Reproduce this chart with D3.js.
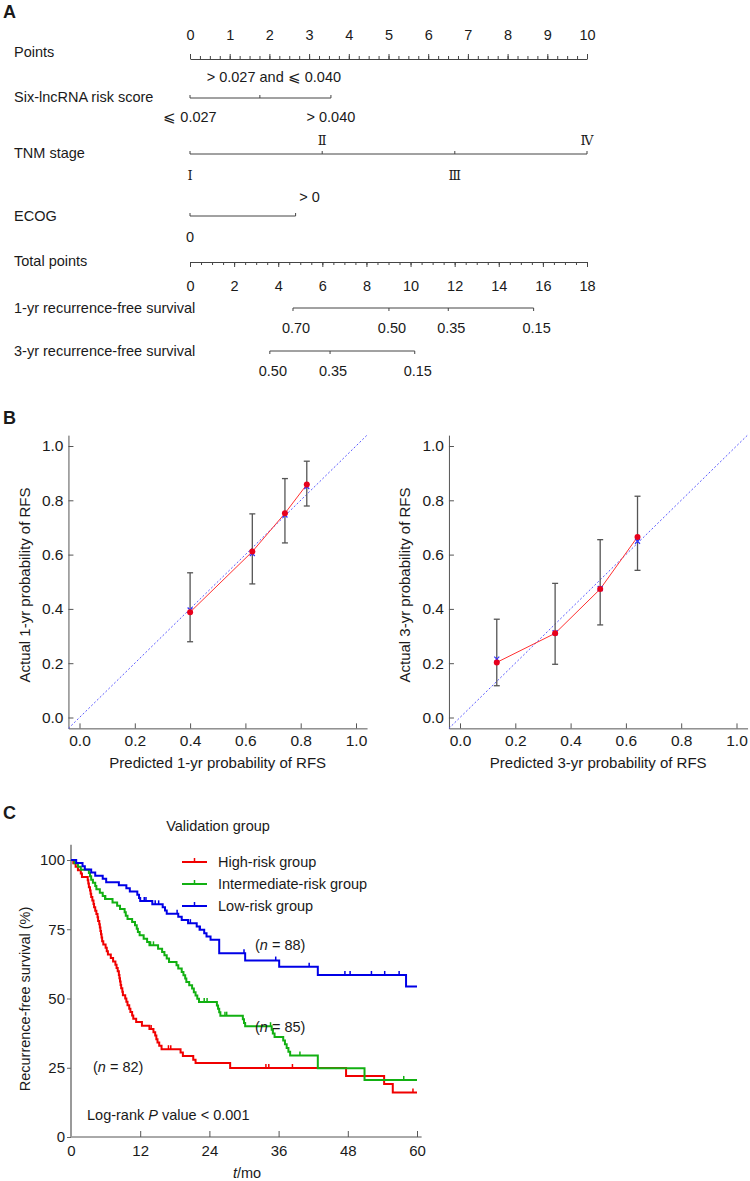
<!DOCTYPE html>
<html><head><meta charset="utf-8">
<script src="https://cdn.jsdelivr.net/npm/d3@7"></script>
<style>
body{margin:0;background:#fff;}
svg{display:block;}
text{fill:#1a1a1a;}
</style></head>
<body>
<script>
// ---------------- DATA ----------------
// Panel A: nomogram
const rowNames = ["Points","Six-lncRNA risk score","TNM stage","ECOG","Total points","1-yr recurrence-free survival","3-yr recurrence-free survival"];
const pointsTicks = [0,1,2,3,4,5,6,7,8,9,10];
const riskLevels = ["⩽ 0.027","> 0.027 and ⩽ 0.040","> 0.040"];
const riskPoints = [0, 1.76, 3.55];
const tnmLevels = ["Ⅰ","Ⅱ","Ⅲ","Ⅳ"];
const tnmPoints = [0, 3.33, 6.67, 10];
const ecogLevels = ["0","> 0"];
const ecogPoints = [0, 2.66];
const totalTicks = [0,2,4,6,8,10,12,14,16,18];
const rfs1Labels = ["0.70","0.50","0.35","0.15"];
const rfs1Total = [4.67, 9.02, 11.71, 15.58];
const rfs3Labels = ["0.50","0.35","0.15"];
const rfs3Total = [3.62, 6.35, 10.19];

// Panel B: calibration
const calTicks = [0,0.2,0.4,0.6,0.8,1.0];
const cal1Pred = [0.400, 0.625, 0.743, 0.822];
const cal1Obs  = [0.388, 0.611, 0.752, 0.858];
const cal1Lo   = [0.279, 0.492, 0.643, 0.779];
const cal1Hi   = [0.533, 0.750, 0.880, 0.944];
const cal1Corr = [0.396, 0.604, 0.746, 0.851];
const cal3Pred = [0.133, 0.344, 0.507, 0.642];
const cal3Obs  = [0.203, 0.310, 0.473, 0.665];
const cal3Lo   = [0.117, 0.196, 0.341, 0.542];
const cal3Hi   = [0.362, 0.494, 0.655, 0.815];
const cal3Corr = [0.215, 0.312, 0.475, 0.649];

// Panel C: Kaplan-Meier (time in months, survival %)
const kmGroups = ["High-risk group","Intermediate-risk group","Low-risk group"];
const kmN = [82, 85, 88];
const kmXTicks = [0,12,24,36,48,60];
const kmYTicks = [0,25,50,75,100];
const redSteps = [[0,100],[0.4,98.8],[0.8,97.6],[1.2,96.3],[1.7,95.1],[1.9,93.9],[2.9,92.7],[3.0,91.5],[3.1,90.2],[3.3,89.0],[3.4,87.8],[3.5,86.6],[3.7,85.4],[3.9,84.1],[4.0,82.9],[4.2,81.7],[4.4,80.5],[4.6,79.3],[4.7,78.0],[4.9,76.8],[5.0,75.6],[5.1,74.4],[5.2,73.2],[5.3,72.0],[5.4,70.7],[5.6,69.5],[6.0,68.3],[6.2,67.1],[6.4,65.9],[6.9,64.6],[7.3,63.4],[7.7,62.2],[7.9,61.0],[8.1,59.8],[8.3,58.5],[8.4,57.3],[8.5,56.1],[8.6,54.9],[8.7,53.7],[8.9,52.4],[9.0,51.2],[9.4,50.0],[9.6,48.8],[9.8,47.6],[10.1,46.3],[10.3,45.1],[10.6,43.9],[10.8,42.7],[11.3,41.5],[12.3,40.2],[13.6,39.0],[14.3,37.8],[14.6,36.6],[14.8,35.3],[15.0,34.1],[15.3,32.9],[15.7,31.7],[19.0,30.5],[19.4,29.2],[21.2,27.9],[21.6,26.7],[27.6,24.9],[47.7,22.0],[54.3,19.1],[55.8,16.1],[60,16.1]];
const greenSteps = [[0,100],[0.6,98.8],[1.2,97.6],[1.7,96.5],[3.1,95.3],[3.3,94.1],[3.5,92.9],[3.8,91.8],[4.2,90.6],[4.4,89.4],[5.0,88.2],[5.5,87.0],[5.9,85.9],[7.2,84.7],[8.0,83.5],[8.5,82.3],[9.3,81.1],[9.5,79.9],[9.8,78.7],[10.6,77.6],[11.1,76.4],[11.4,75.2],[11.6,74.0],[11.9,72.8],[12.6,71.6],[13.2,70.4],[13.6,69.2],[15.1,68.0],[15.8,66.8],[16.2,65.6],[16.6,64.4],[17.0,63.2],[18.3,62.0],[18.6,60.8],[19.2,59.6],[19.5,58.4],[19.8,57.2],[20.0,56.0],[20.5,54.8],[21.0,53.6],[21.3,52.3],[21.6,51.1],[21.9,49.9],[22.2,48.7],[25.3,47.5],[25.5,46.3],[25.7,45.0],[25.9,43.8],[29.8,42.5],[30.0,41.2],[30.2,40.0],[34.8,38.7],[35.0,37.4],[35.3,36.1],[36.8,34.8],[37.1,33.5],[37.4,32.1],[37.7,30.8],[38.0,29.4],[42.8,24.8],[50.9,20.6],[60,20.6]];
const blueSteps = [[0,100],[0.9,98.9],[2.0,97.7],[2.4,96.6],[3.5,95.5],[4.2,94.3],[5.5,93.2],[6.1,92.0],[8.3,90.9],[9.6,89.8],[10.2,88.6],[11.5,87.5],[11.8,86.3],[12.0,85.2],[14.1,84.0],[15.9,82.9],[16.3,81.8],[16.6,80.6],[18.6,79.5],[19.2,78.3],[20.3,77.2],[21.8,76.0],[22.3,74.8],[23.1,73.6],[23.5,72.4],[24.2,71.2],[25.7,66.3],[30.2,63.7],[36.1,61.5],[42.8,58.5],[58.1,54.3],[60,54.3]];
const redCensor = [13.9, 16.9, 17.3, 33.8, 34.3, 38.4, 59.3];
const greenCensor = [6.0, 13.8, 14.3, 23.1, 23.6, 26.7, 27.0, 34.6, 35.0, 39.7, 57.7];
const blueCensor = [12.7, 13.0, 14.6, 15.2, 18.4, 20.7, 22.4, 30.0, 35.5, 41.3, 47.5, 48.4, 52.1, 54.4, 56.9];

// ---------------- DRAW ----------------
const W = 750, H = 1181;
const FONT = "'Liberation Sans', Arial, sans-serif";
const svg = d3.select("body").append("svg").attr("width", W).attr("height", H)
  .style("font-family", FONT).style("font-size", "14.5px");
svg.append("rect").attr("width", W).attr("height", H).attr("fill", "#fff");

function styleAxis(g, col, fs) {
  g.attr("font-family", null).attr("font-size", null);
  g.selectAll("text").attr("fill", "#1a1a1a").style("font-size", (fs || 14.5) + "px");
  g.selectAll("line").attr("stroke", col || "#444");
  g.select(".domain").attr("stroke", col || "#444");
}

// Panel letters
[["A",3,18],["B",3,424],["C",3,819]].forEach(([t,x,y]) =>
  svg.append("text").attr("x", x).attr("y", y).text(t)
    .style("font-weight", "bold").style("font-size", "18px"));

// ---- Panel A ----
const A = svg.append("g");
const xPts = d3.scaleLinear().domain([0, 10]).range([190, 587]);
const xTot = d3.scaleLinear().domain([0, 18]).range([190, 587]);
const rowLabelY = [52, 97, 153, 216, 261, 308, 351];
rowNames.forEach((n, i) => A.append("text").attr("x", 14).attr("y", rowLabelY[i] + 5).text(n));

// Points axis
const yPts = 59;
A.append("g").attr("transform", `translate(0,${yPts})`)
  .call(d3.axisTop(xPts).tickValues(d3.range(0, 10.001, 0.25)).tickSize(3).tickFormat(""))
  .call(g => { styleAxis(g); g.select(".domain").remove(); });
A.append("g").attr("transform", `translate(0,${yPts})`)
  .call(d3.axisTop(xPts).tickValues(pointsTicks).tickSize(5).tickSizeOuter(0).tickPadding(14))
  .call(g => styleAxis(g));

// Categorical rows
function catRow(y, levels, pts, pos, upOff, downOff, font) {
  const g = A.append("g");
  g.append("line").attr("x1", xPts(d3.min(pts))).attr("x2", xPts(d3.max(pts)))
    .attr("y1", y).attr("y2", y).attr("stroke", "#444");
  pts.forEach((p, i) => {
    g.append("line").attr("x1", xPts(p)).attr("x2", xPts(p)).attr("y1", y).attr("y2", y - 3).attr("stroke", "#444");
    const t = g.append("text").attr("x", xPts(p) + (pos[i] === "a2" ? 14 : 0))
      .attr("y", pos[i] === "b" ? y + downOff + 5 : y - upOff + 5)
      .attr("text-anchor", "middle").text(levels[i]);
    if (font) t.style("font-family", font).style("font-size", "13px");
  });
}
catRow(98, riskLevels, riskPoints, ["b","a2","b"], 21, 19);
catRow(154, tnmLevels, tnmPoints, ["b","a","b","a"], 14, 21, "'DejaVu Serif', 'Liberation Serif', serif");
catRow(216, ecogLevels, ecogPoints, ["b","a2"], 19, 21);

// Total points axis
const yTot = 262;
A.append("g").attr("transform", `translate(0,${yTot})`)
  .call(d3.axisBottom(xTot).tickValues(d3.range(0, 18.001, 0.5)).tickSize(3).tickFormat(""))
  .call(g => { styleAxis(g); g.select(".domain").remove(); });
A.append("g").attr("transform", `translate(0,${yTot})`)
  .call(d3.axisBottom(xTot).tickValues(totalTicks).tickSize(5).tickSizeOuter(0).tickPadding(14))
  .call(g => styleAxis(g));

function probRow(y, labels, tots) {
  const g = A.append("g");
  g.append("line").attr("x1", xTot(d3.min(tots))).attr("x2", xTot(d3.max(tots)))
    .attr("y1", y).attr("y2", y).attr("stroke", "#444");
  tots.forEach((t, i) => {
    g.append("line").attr("x1", xTot(t)).attr("x2", xTot(t)).attr("y1", y).attr("y2", y + 3).attr("stroke", "#444");
    g.append("text").attr("x", xTot(t) + 3).attr("y", y + 20 + 5).attr("text-anchor", "middle").text(labels[i]);
  });
}
probRow(308, rfs1Labels, rfs1Total);
probRow(351, rfs3Labels, rfs3Total);

// ---- Panel B ----
function calPanel(x0, pred, obs, lo, hi, corr, yLab, xLab, yLabX) {
  const g = svg.append("g").style("font-size", "15px");
  const x = d3.scaleLinear().domain([-0.04, 1.04]).range([x0 - 0.04 * 276.5, x0 + 1.04 * 276.5]);
  const y = d3.scaleLinear().domain([-0.04, 1.04]).range([717.5 + 0.04 * 271.5, 717.5 - 1.04 * 271.5]);
  g.append("g").attr("transform", `translate(0,${y(-0.04)})`)
    .call(d3.axisBottom(x).tickValues(calTicks).tickFormat(d3.format(".1f")).tickSizeInner(-5).tickSizeOuter(0).tickPadding(7))
    .call(a => styleAxis(a, "#555", 15.5));
  g.append("g").attr("transform", `translate(${x(-0.04)},0)`)
    .call(d3.axisLeft(y).tickValues(calTicks).tickFormat(d3.format(".1f")).tickSizeInner(-5).tickSizeOuter(0).tickPadding(5))
    .call(a => styleAxis(a, "#555", 15.5));
  // diagonal
  g.append("line").attr("x1", x(-0.04)).attr("y1", y(-0.04)).attr("x2", x(1.04)).attr("y2", y(1.04))
    .attr("stroke", "#5a5aff").attr("stroke-width", 1).attr("stroke-dasharray", "2,2");
  // error bars
  pred.forEach((p, i) => {
    g.append("line").attr("x1", x(p)).attr("x2", x(p)).attr("y1", y(lo[i])).attr("y2", y(hi[i]))
      .attr("stroke", "#555").attr("stroke-width", 1.3);
    [lo[i], hi[i]].forEach(v => g.append("line").attr("x1", x(p) - 3).attr("x2", x(p) + 3)
      .attr("y1", y(v)).attr("y2", y(v)).attr("stroke", "#555").attr("stroke-width", 1.3));
  });
  // red line
  const pts = pred.map((p, i) => [p, obs[i]]);
  g.append("path").datum(pts).attr("fill", "none").attr("stroke", "#ff3030").attr("stroke-width", 1)
    .attr("d", d3.line().x(d => x(d[0])).y(d => y(d[1])));
  // blue x markers
  pred.forEach((p, i) => {
    const cx = x(p), cy = y(corr[i]);
    g.append("path").attr("d", `M${cx-2.5},${cy-2.5}L${cx+2.5},${cy+2.5}M${cx-2.5},${cy+2.5}L${cx+2.5},${cy-2.5}`)
      .attr("stroke", "#3030ff").attr("stroke-width", 1.2);
  });
  g.selectAll("circle.obs").data(pts).join("circle").attr("class", "obs")
    .attr("cx", d => x(d[0])).attr("cy", d => y(d[1])).attr("r", 3).attr("fill", "#e8001c");
  g.append("text").attr("transform", `translate(${yLabX},585) rotate(-90)`).attr("dy", "0.35em")
    .attr("text-anchor", "middle").text(yLab);
  g.append("text").attr("x", (x(-0.04) + x(1.04)) / 2).attr("y", 768).attr("text-anchor", "middle").text(xLab);
}
calPanel(79.5, cal1Pred, cal1Obs, cal1Lo, cal1Hi, cal1Corr,
  "Actual 1-yr probability of RFS", "Predicted 1-yr probability of RFS", 25);
calPanel(460, cal3Pred, cal3Obs, cal3Lo, cal3Hi, cal3Corr,
  "Actual 3-yr probability of RFS", "Predicted 3-yr probability of RFS", 405);

// ---- Panel C ----
const C = svg.append("g");
const xKM = d3.scaleLinear().domain([0, 60]).range([71, 417]);
const yKM = d3.scaleLinear().domain([0, 100]).range([1137, 860]);
C.append("g").attr("transform", "translate(0,1137)")
  .call(d3.axisBottom(xKM).tickValues(kmXTicks).tickSizeInner(-6).tickSizeOuter(0).tickPadding(8))
  .call(a => { styleAxis(a, "#555", 15); a.select(".domain").attr("d", `M71,0H${xKM(60.8)}`); });
C.append("g").attr("transform", "translate(71,0)")
  .call(d3.axisLeft(yKM).tickValues(kmYTicks).tickSize(4).tickSizeOuter(0).tickPadding(2))
  .call(a => { styleAxis(a, "#666", 15); a.select(".domain").attr("d", `M0,1137V${yKM(105.5)}`).attr("stroke", "#9a9a9a").attr("stroke-width", 2); });

const kmColors = ["#f00000", "#12b012", "#0000e6"];
const kmSteps = [redSteps, greenSteps, blueSteps];
const kmCensor = [redCensor, greenCensor, blueCensor];
const stepLine = d3.line().curve(d3.curveStepAfter).x(d => xKM(d[0])).y(d => yKM(d[1]));
function survAt(steps, t) { let s = steps[0][1]; for (const d of steps) { if (d[0] <= t) s = d[1]; } return s; }
kmSteps.forEach((st, i) => {
  C.append("path").datum(st).attr("fill", "none").attr("stroke", kmColors[i]).attr("stroke-width", 2)
    .attr("d", stepLine);
  kmCensor[i].forEach(t => {
    const s = survAt(st, t);
    C.append("line").attr("x1", xKM(t)).attr("x2", xKM(t)).attr("y1", yKM(s)).attr("y2", yKM(s) - 4)
      .attr("stroke", kmColors[i]).attr("stroke-width", 1.5);
  });
});
// legend
const legY = [862, 884, 906];
kmGroups.forEach((n, i) => {
  C.append("line").attr("x1", 182).attr("x2", 207).attr("y1", legY[i]).attr("y2", legY[i])
    .attr("stroke", kmColors[i]).attr("stroke-width", 2);
  C.append("line").attr("x1", 194.5).attr("x2", 194.5).attr("y1", legY[i]).attr("y2", legY[i] - 4)
    .attr("stroke", kmColors[i]).attr("stroke-width", 1.5);
  C.append("text").attr("x", 218).attr("y", legY[i] + 5).text(n);
});
C.append("text").attr("x", 218).attr("y", 831).attr("text-anchor", "middle").text("Validation group");
function nLabel(x, y, n) {
  const t = C.append("text").attr("x", x).attr("y", y);
  t.append("tspan").text("(");
  t.append("tspan").style("font-style", "italic").text("n");
  t.append("tspan").text(" = " + n + ")");
}
nLabel(255, 950, kmN[2]);
nLabel(255, 1032, kmN[1]);
nLabel(93, 1072, kmN[0]);
const lr = C.append("text").attr("x", 87).attr("y", 1120);
lr.append("tspan").text("Log-rank ");
lr.append("tspan").style("font-style", "italic").text("P");
lr.append("tspan").text(" value < 0.001");
const xl = C.append("text").attr("x", 247).attr("y", 1178).attr("text-anchor", "middle");
xl.append("tspan").style("font-style", "italic").text("t");
xl.append("tspan").text("/mo");
C.append("text").attr("transform", "translate(25,999) rotate(-90)").attr("dy", "0.35em")
  .attr("text-anchor", "middle").text("Recurrence-free survival (%)");
</script>
</body></html>
